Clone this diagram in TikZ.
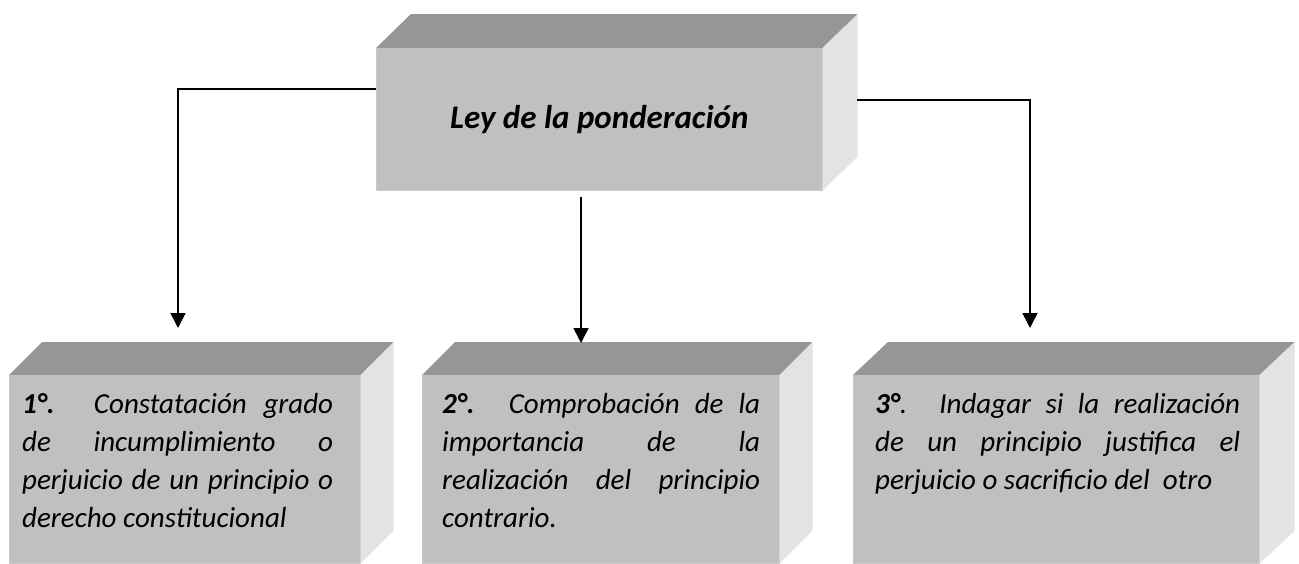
\documentclass[tikz,border=0pt]{standalone}
\usepackage{fontspec}
\setmainfont{Carlito}
\usetikzlibrary{calc,arrows.meta}
\definecolor{frontc}{HTML}{C0C0C0}
\definecolor{topc}{HTML}{969696}
\definecolor{sidec}{HTML}{E3E3E3}
\newcommand{\boxdepth}[3]{%
  \fill[topc] (#1.north west) -- ++(#2,-#3) -- ($(#1.north east)+(#2,-#3)$) -- (#1.north east) -- cycle;
  \fill[sidec] (#1.north east) -- ++(#2,-#3) -- ($(#1.south east)+(#2,-#3)$) -- (#1.south east) -- cycle;}
\begin{document}
\begin{tikzpicture}[x=1pt,y=-1pt,
  front/.style={fill=frontc, draw=frontc!85!white, line width=0.6pt, inner sep=0pt, anchor=north west},
  conn/.style={line width=1.6pt, -{Triangle[length=15pt,width=15pt]}},
  bodytext/.style={anchor=base west, inner sep=0pt, font=\itshape\fontsize{29}{38}\selectfont}]
\useasboundingbox (0,0) rectangle (1299,563);
% top box
\node[front, minimum width=446pt, minimum height=142pt, font=\bfseries\itshape\fontsize{33}{40}\selectfont] (top) at (376,48) {Ley de la ponderación};
\boxdepth{top}{35}{34}
% bottom boxes
\node[front, minimum width=351pt, minimum height=188pt] (b1) at (9,375) {};
\boxdepth{b1}{33}{33}
\node[front, minimum width=357pt, minimum height=188pt] (b2) at (422,375) {};
\boxdepth{b2}{33}{33}
\node[front, minimum width=406pt, minimum height=188pt] (b3) at (853,375) {};
\boxdepth{b3}{35}{33}
% texts
\node[bodytext] (t1) at (22,413) {\parbox[t]{311pt}{\fontsize{29}{38}\selectfont\textbf{1°.} Constatación grado\linebreak de incumplimiento o\linebreak perjuicio de un principio o\linebreak derecho constitucional}};
\node[bodytext] (t2) at (442,413) {\parbox[t]{318pt}{\fontsize{29}{38}\selectfont\textbf{2°.} Comprobación de la\linebreak importancia de la\linebreak realización del principio\linebreak contrario.}};
\node[bodytext] (t3) at (875,413) {\parbox[t]{365pt}{\fontsize{29}{38}\selectfont\textbf{3°}. Indagar si la realización\linebreak de un principio justifica el\linebreak perjuicio o sacrificio del\ \ otro}};
% connectors
\coordinate (l0) at (376,89);
\coordinate (l1) at (178,328);
\coordinate (m0) at (581,197);
\coordinate (m1) at (581,343);
\coordinate (r0) at (857,100);
\coordinate (r1) at (1030,328);
\draw[conn] (l0) -| (l1);
\draw[conn] (m0) -- (m1);
\draw[conn] (r0) -| (r1);
\end{tikzpicture}
\end{document}
